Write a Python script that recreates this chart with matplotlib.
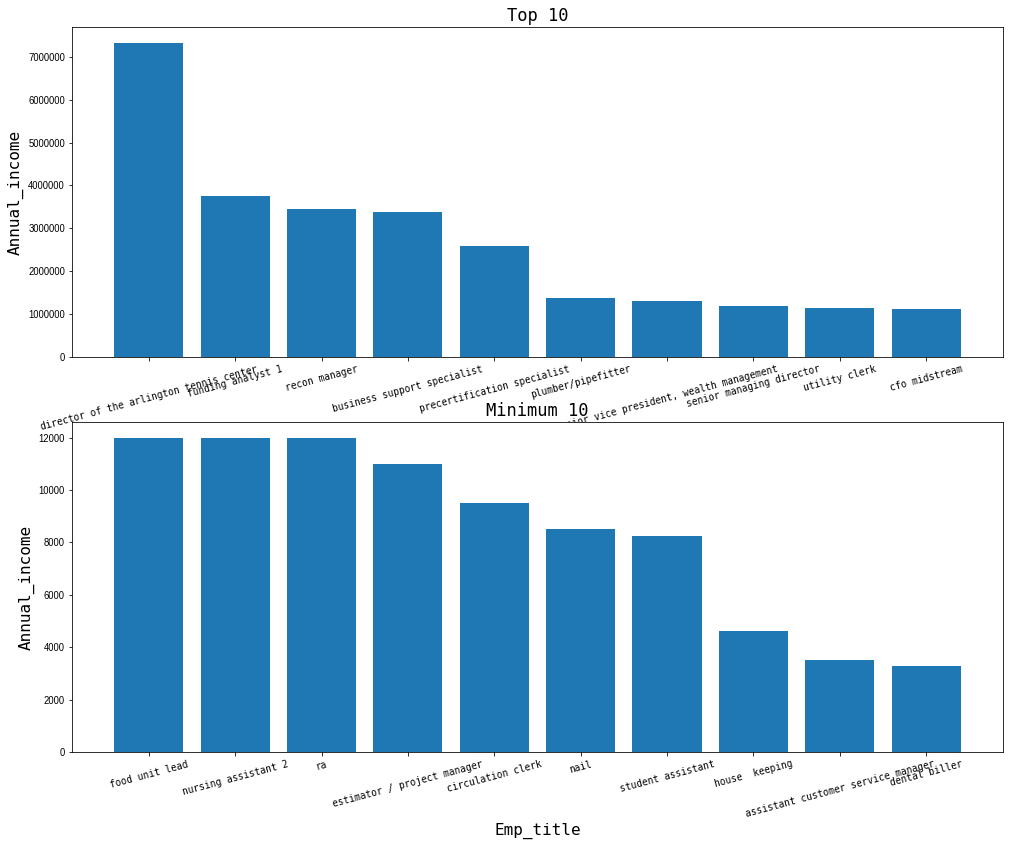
import numpy as np
import matplotlib
matplotlib.use('Agg')
import matplotlib.pyplot as plt

top_titles = ['director of the arlington tennis center', 'funding analyst 1', 'recon manager',
              'business support specialist', 'precertification specialist', 'plumber/pipefitter',
              'senior vice president, wealth management', 'senior managing director',
              'utility clerk', 'cfo midstream']
top_income = [7330000, 3760000, 3450000, 3380000, 2590000, 1380000, 1310000, 1190000, 1140000, 1120000]

min_titles = ['food unit lead', 'nursing assistant 2', 'ra', 'estimator / project manager',
              'circulation clerk', 'nail', 'student assistant', 'house  keeping',
              'assistant customer service manager', 'dental biller']
min_income = [12000, 12000, 12000, 11000, 9500, 8500, 8250, 4600, 3500, 3300]

mono = 'DejaVu Sans Mono'

fig = plt.figure(figsize=(1014/72, 843/72), dpi=72)
ax1 = fig.add_axes([0.0710, 0.5765, 0.9181, 0.3915])
ax2 = fig.add_axes([0.0710, 0.1080, 0.9181, 0.3914])

def draw(ax, names, vals, title):
    x = np.arange(len(names))
    ax.bar(x, vals, color='#1f77b4')
    ax.set_xticks(x)
    ax.set_xticklabels(names, rotation=15, fontsize=9.5, family=mono)
    ax.ticklabel_format(axis='y', style='plain', useOffset=False)
    for t in ax.get_yticklabels():
        t.set_family('Liberation Sans')
        t.set_fontsize(9.5)
    ax.set_title(title, fontsize=17, family=mono)
    ax.set_ylabel('Annual_income', fontsize=16, family=mono)

draw(ax1, top_titles, top_income, 'Top 10')
draw(ax2, min_titles, min_income, 'Minimum 10')
ax2.set_xlabel('Emp_title', fontsize=16, family=mono)

fig.savefig('out.png', dpi=72)
